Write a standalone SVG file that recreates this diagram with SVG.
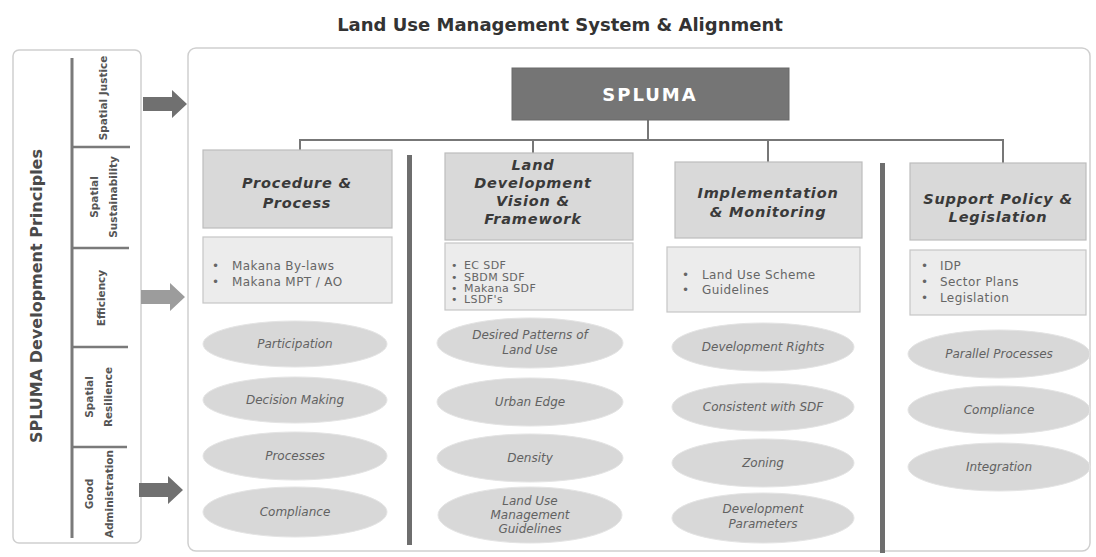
<svg xmlns="http://www.w3.org/2000/svg" width="1096" height="557" viewBox="0 0 1096 557">
  <style>
    .title { font-family: "DejaVu Sans", "Liberation Sans", sans-serif; font-weight: bold; font-size: 18px; fill: #333; }
    .panel { fill: #ffffff; stroke: #cfcfcf; stroke-width: 1.5; }
    .vert { font-family: "DejaVu Sans", "Liberation Sans", sans-serif; font-weight: bold; fill: #4a4a4a; text-anchor: middle; }
    .principle { font-size: 10.5px; fill: #555; }
    .rule { stroke: #7a7a7a; stroke-width: 3; fill: none; }
    .cellrule { stroke: #7a7a7a; stroke-width: 2.5; fill: none; }
    .root { fill: #757575; stroke: #6a6a6a; stroke-width: 1; }
    .rootText { font-family: "DejaVu Sans", "Liberation Sans", sans-serif; font-weight: bold; font-size: 18px; fill: #ffffff; text-anchor: middle; letter-spacing: 2px; }
    .link { stroke: #777; stroke-width: 2; fill: none; }
    .bar { fill: #6e6e6e; }
    .head { fill: #d9d9d9; stroke: #bdbdbd; stroke-width: 1.2; }
    .headText { font-family: "DejaVu Sans", "Liberation Sans", sans-serif; font-weight: bold; font-style: italic; font-size: 14.5px; fill: #3a3a3a; text-anchor: middle; letter-spacing: 0.8px; }
    .list { fill: #ececec; stroke: #c6c6c6; stroke-width: 1.2; }
    .listText { font-family: "DejaVu Sans", "Liberation Sans", sans-serif; font-size: 12px; fill: #666; letter-spacing: 0.4px; }
    .small { font-size: 11px; }
    .oval { fill: #d8d8d8; stroke: #e4e4e4; stroke-width: 1; }
    .ovalText { font-family: "DejaVu Sans", "Liberation Sans", sans-serif; font-style: italic; font-size: 12px; fill: #626262; text-anchor: middle; }
    .arrow { fill: #707070; }
    .arrowLight { fill: #9c9c9c; }
  </style>

  <rect width="1096" height="557" fill="#ffffff"/>

  <!-- heading -->
  <text id="title" class="title" x="560" y="31" text-anchor="middle">Land Use Management System &amp; Alignment</text>

  <!-- principles panel -->
  <g id="principles">
    <rect class="panel" x="13" y="50" width="128" height="493" rx="6"/>
    <g transform="translate(0,296) rotate(-90)">
      <text class="vert" x="0" y="42" font-size="16">SPLUMA Development Principles</text>
    </g>
    <line class="rule" x1="72" y1="58" x2="72" y2="538"/>
    <line class="cellrule" x1="72" y1="147" x2="130" y2="147"/>
    <line class="cellrule" x1="72" y1="248" x2="129" y2="248"/>
    <line class="cellrule" x1="72" y1="347" x2="128" y2="347"/>
    <line class="cellrule" x1="72" y1="447" x2="127" y2="447"/>
    <g transform="translate(0,98) rotate(-90)">
      <text class="vert principle" x="0" y="107">Spatial Justice</text>
    </g>
    <g transform="translate(0,197) rotate(-90)">
      <text class="vert principle" x="0" y="98">Spatial</text>
      <text class="vert principle" x="0" y="117">Sustainability</text>
    </g>
    <g transform="translate(0,298) rotate(-90)">
      <text class="vert principle" x="0" y="105">Efficiency</text>
    </g>
    <g transform="translate(0,397) rotate(-90)">
      <text class="vert principle" x="0" y="93">Spatial</text>
      <text class="vert principle" x="0" y="112">Resilience</text>
    </g>
    <g transform="translate(0,494) rotate(-90)">
      <text class="vert principle" x="0" y="93">Good</text>
      <text class="vert principle" x="0" y="113">Administration</text>
    </g>
  </g>

  <!-- arrows into the system panel -->
  <g id="arrows">
    <path class="arrow" d="M143,97 H172 V90 L187,104 L172,118 V111 H143 Z"/>
    <path class="arrowLight" d="M141,290 H170 V283 L185,297 L170,311 V304 H141 Z"/>
    <path class="arrow" d="M139,483 H168 V476 L183,490 L168,504 V497 H139 Z"/>
  </g>

  <!-- system panel -->
  <rect id="system" class="panel" x="188" y="48" width="902" height="503" rx="8"/>

  <!-- column separators -->
  <g id="separators">
    <rect class="bar" x="407" y="155" width="5" height="390"/>
    <rect class="bar" x="880" y="163" width="5" height="390"/>
  </g>

  <!-- connectors -->
  <g id="connectors">
    <line class="link" x1="648" y1="120" x2="648" y2="140"/>
    <line class="link" x1="300" y1="140" x2="1003" y2="140"/>
    <line class="link" x1="300" y1="139" x2="300" y2="150"/>
    <line class="link" x1="533" y1="139" x2="533" y2="153"/>
    <line class="link" x1="768" y1="139" x2="768" y2="162"/>
    <line class="link" x1="1003" y1="139" x2="1003" y2="163"/>
  </g>

  <!-- root -->
  <g id="spluma">
    <rect class="root" x="512" y="68" width="277" height="52"/>
    <text class="rootText" x="650" y="101">SPLUMA</text>
  </g>

  <!-- column 1 -->
  <g id="procedure">
    <rect class="head" x="203" y="150" width="189" height="78"/>
    <text class="headText" x="297" y="188">Procedure &amp;</text>
    <text class="headText" x="297" y="208">Process</text>
    <rect class="list" x="203" y="237" width="189" height="66"/>
    <text class="listText" x="212" y="270">•</text>
    <text class="listText" x="232" y="270">Makana By-laws</text>
    <text class="listText" x="212" y="286">•</text>
    <text class="listText" x="232" y="286">Makana MPT / AO</text>
  </g>
  <g id="participation">
    <ellipse class="oval" cx="295" cy="344" rx="92" ry="23"/>
    <text class="ovalText" x="295" y="348">Participation</text>
  </g>
  <g id="decision-making">
    <ellipse class="oval" cx="295" cy="400" rx="92" ry="23"/>
    <text class="ovalText" x="295" y="404">Decision Making</text>
  </g>
  <g id="processes">
    <ellipse class="oval" cx="295" cy="456" rx="92" ry="24"/>
    <text class="ovalText" x="295" y="460">Processes</text>
  </g>
  <g id="compliance-1">
    <ellipse class="oval" cx="295" cy="512" rx="92" ry="25"/>
    <text class="ovalText" x="295" y="516">Compliance</text>
  </g>

  <!-- column 2 -->
  <g id="land-development">
    <rect class="head" x="445" y="153" width="188" height="87"/>
    <text class="headText" x="533" y="170">Land</text>
    <text class="headText" x="533" y="188">Development</text>
    <text class="headText" x="533" y="206">Vision &amp;</text>
    <text class="headText" x="533" y="224">Framework</text>
    <rect class="list" x="445" y="243" width="188" height="67"/>
    <text class="listText small" x="451" y="269">•</text>
    <text class="listText small" x="464" y="269">EC SDF</text>
    <text class="listText small" x="451" y="281">•</text>
    <text class="listText small" x="464" y="281">SBDM SDF</text>
    <text class="listText small" x="451" y="292">•</text>
    <text class="listText small" x="464" y="292">Makana SDF</text>
    <text class="listText small" x="451" y="303">•</text>
    <text class="listText small" x="464" y="303">LSDF's</text>
  </g>
  <g id="desired-patterns">
    <ellipse class="oval" cx="530" cy="343" rx="93" ry="25"/>
    <text class="ovalText" x="530" y="339">Desired Patterns of</text>
    <text class="ovalText" x="530" y="354">Land Use</text>
  </g>
  <g id="urban-edge">
    <ellipse class="oval" cx="530" cy="402" rx="93" ry="24"/>
    <text class="ovalText" x="530" y="406">Urban Edge</text>
  </g>
  <g id="density">
    <ellipse class="oval" cx="530" cy="458" rx="93" ry="24"/>
    <text class="ovalText" x="530" y="462">Density</text>
  </g>
  <g id="lum-guidelines">
    <ellipse class="oval" cx="530" cy="515" rx="92" ry="28"/>
    <text class="ovalText" x="530" y="505">Land Use</text>
    <text class="ovalText" x="530" y="519">Management</text>
    <text class="ovalText" x="530" y="533">Guidelines</text>
  </g>

  <!-- column 3 -->
  <g id="implementation">
    <rect class="head" x="675" y="162" width="187" height="76"/>
    <text class="headText" x="768" y="198">Implementation</text>
    <text class="headText" x="768" y="217">&amp; Monitoring</text>
    <rect class="list" x="667" y="247" width="193" height="65"/>
    <text class="listText" x="682" y="279">•</text>
    <text class="listText" x="702" y="279">Land Use Scheme</text>
    <text class="listText" x="682" y="294">•</text>
    <text class="listText" x="702" y="294">Guidelines</text>
  </g>
  <g id="development-rights">
    <ellipse class="oval" cx="763" cy="347" rx="91" ry="24"/>
    <text class="ovalText" x="763" y="351">Development Rights</text>
  </g>
  <g id="consistent-sdf">
    <ellipse class="oval" cx="763" cy="407" rx="91" ry="24"/>
    <text class="ovalText" x="763" y="411">Consistent with SDF</text>
  </g>
  <g id="zoning">
    <ellipse class="oval" cx="763" cy="463" rx="91" ry="24"/>
    <text class="ovalText" x="763" y="467">Zoning</text>
  </g>
  <g id="development-parameters">
    <ellipse class="oval" cx="763" cy="518" rx="91" ry="25"/>
    <text class="ovalText" x="763" y="513">Development</text>
    <text class="ovalText" x="763" y="528">Parameters</text>
  </g>

  <!-- column 4 -->
  <g id="support-policy">
    <rect class="head" x="910" y="163" width="176" height="77"/>
    <text class="headText" x="998" y="204">Support Policy &amp;</text>
    <text class="headText" x="998" y="222">Legislation</text>
    <rect class="list" x="910" y="250" width="176" height="65"/>
    <text class="listText" x="921" y="270">•</text>
    <text class="listText" x="940" y="270">IDP</text>
    <text class="listText" x="921" y="286">•</text>
    <text class="listText" x="940" y="286">Sector Plans</text>
    <text class="listText" x="921" y="302">•</text>
    <text class="listText" x="940" y="302">Legislation</text>
  </g>
  <g id="parallel-processes">
    <ellipse class="oval" cx="999" cy="354" rx="91" ry="24"/>
    <text class="ovalText" x="999" y="358">Parallel Processes</text>
  </g>
  <g id="compliance-4">
    <ellipse class="oval" cx="999" cy="410" rx="91" ry="24"/>
    <text class="ovalText" x="999" y="414">Compliance</text>
  </g>
  <g id="integration">
    <ellipse class="oval" cx="999" cy="467" rx="91" ry="24"/>
    <text class="ovalText" x="999" y="471">Integration</text>
  </g>
</svg>
